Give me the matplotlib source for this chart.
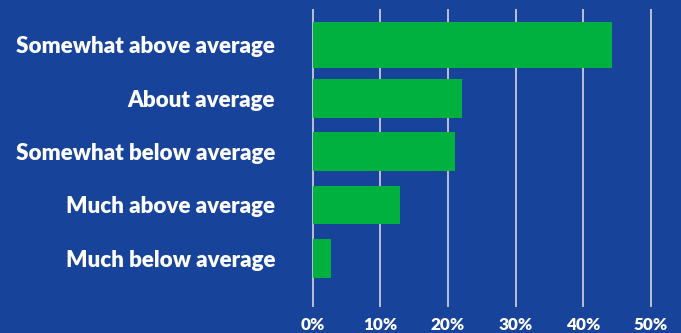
import numpy as np
import matplotlib.pyplot as plt

plt.switch_backend('agg')

BG = '#17449a'
GREEN = '#00b140'
GRID = '#c9cbd6'

categories = ['Somewhat above average', 'About average', 'Somewhat below average',
              'Much above average', 'Much below average']
shares = [44.3, 22.1, 21.0, 12.9, 2.7]
xticks = [0, 10, 20, 30, 40, 50]
xtick_labels = ['0%', '10%', '20%', '30%', '40%', '50%']

plt.rcParams['font.family'] = ['Lato', 'DejaVu Sans']

W, H = 681, 333
fig = plt.figure(figsize=(W / 100, H / 100), dpi=100, facecolor=BG)

# axes box in pixels (left, right, top, bottom)
left_px, right_px, top_px, bottom_px = 309.3, 657.8, 9, 307
ax = fig.add_axes([left_px / W, 1 - bottom_px / H,
                   (right_px - left_px) / W, (bottom_px - top_px) / H])
ax.set_facecolor(BG)

y = np.arange(len(categories))
heights = [0.88, 0.73, 0.73, 0.73, 0.73]
ax.barh(y, shares, height=heights, color=GREEN, zorder=2)

ax.set_xlim(-0.5, 51)
ax.set_ylim(4.913, -0.675)

ax.set_xticks(xticks)
ax.set_xticklabels(xtick_labels)
ax.set_yticks(y)
ax.set_yticklabels(categories)

for lab in ax.get_yticklabels():
    lab.set_fontsize(16.1)
    lab.set_fontweight('heavy')
    lab.set_color('white')
for lab in ax.get_xticklabels():
    lab.set_fontsize(12.3)
    lab.set_fontweight('heavy')
    lab.set_color('white')

ax.tick_params(axis='y', length=0, pad=24.5)
ax.tick_params(axis='x', length=0, pad=7)

ax.xaxis.grid(True, color=GRID, linewidth=1.3, zorder=1)
ax.set_axisbelow(True)
for s in ax.spines.values():
    s.set_visible(False)

plt.savefig('out.png', dpi=100, facecolor=BG)
plt.close()
